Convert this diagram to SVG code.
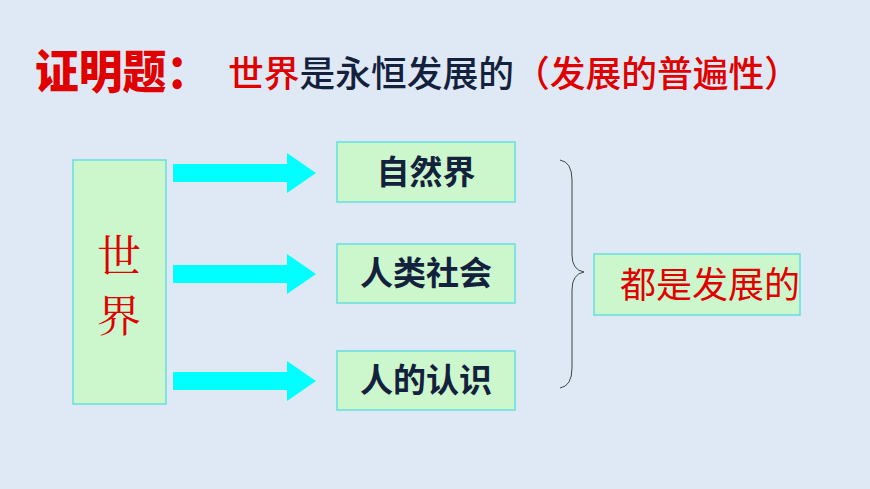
<svg xmlns="http://www.w3.org/2000/svg" width="870" height="489" viewBox="0 0 870 489">
<style>
.box{fill:#ccf7cc;stroke:#66dede;stroke-width:1.5}
.arr{fill:#00ffff}
.lbl{font-family:"Noto Sans CJK SC",sans-serif;font-weight:bold;font-size:33px;fill:#14213d;text-anchor:middle}
.red{fill:#e00000}
</style>
<rect width="870" height="489" fill="#dfe9f5"/>
<g id="title" font-family="Noto Sans CJK SC,sans-serif">
<text x="35" y="88" font-size="46" font-weight="900" class="red" textLength="175" lengthAdjust="spacingAndGlyphs">证明题：</text>
<text x="228" y="87" font-size="36" font-weight="500" textLength="572" lengthAdjust="spacingAndGlyphs"><tspan class="red">世界</tspan><tspan fill="#14213d">是永恒发展的</tspan><tspan class="red">（发展的普遍性）</tspan></text>
</g>
<g id="world"><rect class="box" x="73" y="160" width="93" height="244"/>
<text x="119" y="272" font-family="Noto Serif CJK SC,Noto Sans CJK SC,serif" font-size="44" fill="#e00000" text-anchor="middle">世</text>
<text x="119" y="332" font-family="Noto Serif CJK SC,Noto Sans CJK SC,serif" font-size="44" fill="#e00000" text-anchor="middle">界</text></g>
<g id="connectors">
<polygon class="arr" points="173,164 287,164 287,153 316,173 287,193 287,182 173,182"/>
<polygon class="arr" points="173,265 287,265 287,254 316,274 287,294 287,283 173,283"/>
<polygon class="arr" points="173,372 287,372 287,361 316,381 287,401 287,390 173,390"/>
<path d="M560,160 Q572,162 572,180 L572,255 Q572,270 584,272 Q572,274 572,290 L572,368 Q572,386 560,388" fill="none" stroke="#444" stroke-width="1"/>
</g>
<g id="nature"><rect class="box" x="337" y="142" width="178" height="60"/><text class="lbl" x="426" y="184">自然界</text></g>
<g id="society"><rect class="box" x="337" y="244" width="178" height="59"/><text class="lbl" x="426" y="285">人类社会</text></g>
<g id="cognition"><rect class="box" x="337" y="351" width="178" height="59"/><text class="lbl" x="426" y="392">人的认识</text></g>
<g id="result"><rect class="box" x="594" y="254" width="206" height="61"/>
<text x="710" y="298" font-family="Noto Sans CJK SC,sans-serif" font-size="36" fill="#e00000" text-anchor="middle">都是发展的</text></g>
</svg>
